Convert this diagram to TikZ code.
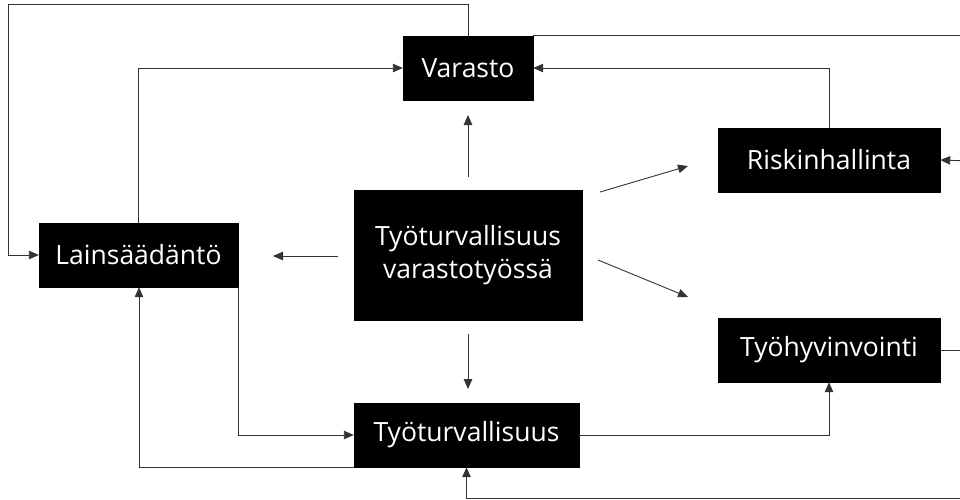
\documentclass[tikz,border=0pt]{standalone}
\usepackage{fontspec}
\setmainfont{Open Sans}
\usetikzlibrary{arrows.meta}
\begin{document}
\begin{tikzpicture}[x=1pt,y=-1pt,
  box/.style={fill=black,draw=black,text=white,inner sep=0pt,font=\fontsize{26.5}{33}\selectfont,align=center},
  ln/.style={draw=black!80,line width=0.9pt},
  arr/.style={ln,-{Triangle[length=10pt,width=8.5pt]}}]
\useasboundingbox (0,0) rectangle (960,499);
\clip (0,0) rectangle (960,499);
\node[box,minimum width=130pt,minimum height=64pt] (var) at (468,68) {Varasto};
\node[box,minimum width=199pt,minimum height=64pt] (lain) at (138.5,255) {Lainsäädäntö};
\node[box,minimum width=228pt,minimum height=130pt] (cen) at (468,255) {Työturvallisuus\\varastotyössä};
\node[box,minimum width=222pt,minimum height=64pt] (risk) at (829,160) {Riskinhallinta};
\node[box,minimum width=222pt,minimum height=64pt] (hyv) at (829,350) {Työhyvinvointi};
\node[box,minimum width=225pt,minimum height=64pt] (tt) at (466.5,435) {Työturvallisuus};
% free ends
\coordinate (a1s) at (468,177); \coordinate (a1e) at (468,115);
\coordinate (a2s) at (600,192); \coordinate (a2e) at (688,166);
\coordinate (a3s) at (598,260); \coordinate (a3e) at (688,297);
\coordinate (a4s) at (338,256); \coordinate (a4e) at (273,256);
\coordinate (a5s) at (468,334); \coordinate (a5e) at (468,389);
\coordinate (rR) at (970,37);
\coordinate (rRisk) at (970,161);
\coordinate (rHyv) at (970,350);
\coordinate (rBot) at (970,498);
% connectors
\draw[arr] (var.north) -- ++(0,-31) -| (8,255) -- (lain.west);
\draw[arr] (lain.north west) ++(100,0) |- (var.west);
\draw[arr] (risk.north) |- (var.east);
\draw[ln] (var.north east) -- (rR |- var.north east);
\draw[arr] (a1s) -- (a1e);
\draw[arr] (a2s) -- (a2e);
\draw[arr] (a3s) -- (a3e);
\draw[arr] (a4s) -- (a4e);
\draw[arr] (a5s) -- (a5e);
\draw[arr] (lain.south east) |- (tt.west);
\draw[arr] (tt.south west) -| (lain.south west -| 139,0);
\draw[arr] (tt.east) -| (hyv.south);
\draw[arr] (rRisk) -- (risk.east);
\draw[ln] (hyv.east) -- (rHyv);
\draw[arr] (rBot) -| (tt.south);
\end{tikzpicture}
\end{document}
